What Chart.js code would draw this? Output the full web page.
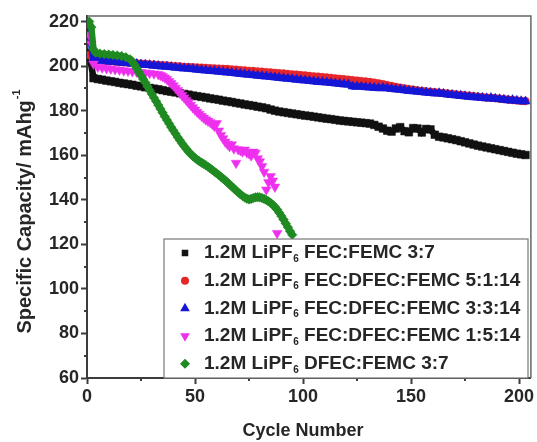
<!DOCTYPE html>
<html>
<head>
<meta charset="utf-8">
<script src="https://cdn.jsdelivr.net/npm/chart.js@4"></script>
<style>
  html, body { margin: 0; padding: 0; background: #fff; }
</style>
</head>
<body>
<canvas id="chart" width="537" height="442"></canvas>
<script>
// cycle numbers shared by the three long series
const cycles = [1,3,5,7,9,11,13,15,17,19,21,23,25,27,29,31,33,35,37,39,41,43,45,47,49,51,53,55,57,59,
  61,63,65,67,69,71,73,75,77,79,81,83,85,87,89,91,93,95,97,99,101,103,105,107,109,111,113,115,117,119,
  121,123,125,127,129,131,133,135,137,139,141,143,145,147,149,151,153,155,157,159,161,163,165,167,169,
  171,173,175,177,179,181,183,185,187,189,191,193,195,197,199,201,203];

// FEC:FEMC 3:7
const capFEC = [206.0,194.6,194.2,193.9,193.5,193.2,192.9,192.5,192.2,191.9,
  191.6,191.2,190.9,190.5,190.2,189.9,189.6,189.2,188.8,188.5,
  188.2,187.8,187.5,187.2,186.8,186.5,186.2,185.9,185.5,185.2,
  184.9,184.5,184.2,183.9,183.5,183.2,182.8,182.5,182.2,181.8,
  181.5,181.1,180.5,180.0,179.6,179.3,179.0,178.7,178.4,178.1,
  177.8,177.6,177.3,177.0,176.7,176.4,176.2,175.9,175.6,175.4,
  175.2,175.0,174.8,174.6,174.4,174.2,173.6,172.8,172.0,171.0,
  170.6,172.0,172.6,170.8,170.3,172.2,172.0,170.2,171.8,171.6,
  169.2,168.3,168.0,167.6,167.2,166.8,166.3,165.8,165.3,164.8,
  164.3,163.9,163.5,163.1,162.7,162.3,161.9,161.5,161.1,160.7,
  160.4,160.1];

// FEC:DFEC:FEMC 5:1:14
const cap514 = [205.0,202.8,202.6,202.5,202.3,202.2,202.0,201.9,201.7,201.6,
  201.4,201.3,201.1,201.0,200.8,200.7,200.5,200.4,200.3,200.1,
  200.0,199.9,199.7,199.6,199.5,199.4,199.3,199.2,199.1,199.0,
  198.9,198.8,198.7,198.5,198.4,198.2,198.1,197.9,197.8,197.6,
  197.5,197.3,197.2,197.0,196.8,196.7,196.5,196.3,196.2,196.0,
  195.8,195.6,195.4,195.3,195.1,194.9,194.7,194.5,194.3,194.1,
  193.9,193.7,193.5,193.3,193.1,192.9,192.6,192.3,191.9,191.5,
  191.1,190.7,190.3,190.0,189.7,189.4,189.1,188.9,188.7,188.5,
  188.3,188.1,187.9,187.7,187.5,187.3,187.1,186.9,186.7,186.5,
  186.3,186.1,185.9,185.8,185.6,185.4,185.2,185.0,184.8,184.6,
  184.4,184.3];

// FEC:DFEC:FEMC 3:3:14
const cap3314 = [216.0,202.8,202.6,202.4,202.2,202.1,201.9,201.7,201.5,201.4,
  201.2,201.0,200.8,200.7,200.5,200.3,200.1,199.9,199.8,199.6,
  199.4,199.2,199.0,198.9,198.7,198.5,198.3,198.1,197.9,197.8,
  197.6,197.4,197.2,197.0,196.8,196.6,196.4,196.2,196.0,195.8,
  195.6,195.4,195.2,195.0,194.8,194.6,194.4,194.2,194.0,193.8,
  193.6,193.4,193.2,193.0,192.9,192.7,192.5,192.3,192.1,191.9,
  191.8,190.9,190.9,190.8,190.6,190.5,190.3,190.2,190.3,190.1,
  189.8,189.6,189.5,189.2,188.9,188.8,188.6,188.4,188.2,188.0,
  187.8,187.9,187.6,187.3,187.1,186.9,186.7,186.5,186.3,186.1,
  186.0,185.8,185.6,185.7,185.4,185.2,185.0,184.7,184.8,184.5,
  184.3,184.2];

// FEC:DFEC:FEMC 1:5:14
const cycles1514 = [1,2,3,5,7,9,11,13,15,17,19,21,23,25,27,29,31,33,
  34,35,36,37,38,39,40,41,42,43,44,45,46,47,48,49,50,51,52,53,54,55,56,57,58,59,60,
  61,62,63,64,65,66,67,68,69,70,71,72,73,74,75,76,77,78,79,80,81,82,83,84,85,86,87,88];
const cap1514 = [214,210,201,199.6,199.3,199.0,198.8,198.5,198.3,198.0,197.8,197.6,197.4,197.2,197.0,196.8,196.6,196.3,
  195.9,195.4,194.8,194.1,193.2,192.3,191.3,190.2,189.1,188.0,186.9,185.8,184.7,183.6,182.5,181.4,180.4,179.4,178.5,
  177.6,176.8,176.0,175.4,174.8,174.0,173.0,174.3,171.0,169.0,167.5,166.0,165.0,164.0,164.8,163.0,156.5,162.6,162.2,
  161.6,162.4,161.2,160.8,159.8,161.5,161.0,158.5,157.2,155.0,152.5,144.5,147.8,150.5,148.5,145.8,125.0];

// DFEC:FEMC 3:7
const cyclesDFEC = [1,2,3,4,6,8,10,12,14,16,18,20,
  21,22,23,24,25,26,27,28,29,30,31,32,33,34,35,36,37,38,39,40,41,42,43,44,45,46,47,48,49,50,
  51,52,53,54,55,56,57,58,59,60,61,62,63,64,65,66,67,68,69,70,71,72,73,74,75,76,77,78,79,80,
  81,82,83,84,85,86,87,88,89,90,91,92,93,94,95];
const capDFEC = [220,217.5,207.5,206.0,205.6,205.4,205.2,205.0,204.8,204.5,204.0,203.0,
  202.0,200.6,199.0,197.4,195.8,194.2,192.6,190.9,189.2,187.5,
  185.8,184.2,182.5,180.8,179.1,177.4,175.8,174.2,172.6,171.1,
  169.6,168.1,166.7,165.3,164.0,162.8,161.6,160.5,159.6,158.8,
  158.0,157.3,156.7,156.1,155.5,154.8,154.1,153.4,152.6,151.9,
  151.1,150.3,149.5,148.7,147.8,146.9,146.0,145.1,144.2,143.3,
  142.5,141.7,141.0,140.5,140.2,140.4,140.8,141.1,141.2,141.1,
  140.8,140.4,139.9,139.3,138.6,137.8,136.8,135.6,134.2,132.7,
  131.1,129.4,127.7,125.9,124.3];

const names = [
  '1.2M LiPF₆ FEC:FEMC 3:7',
  '1.2M LiPF₆ FEC:DFEC:FEMC 5:1:14',
  '1.2M LiPF₆ FEC:DFEC:FEMC 3:3:14',
  '1.2M LiPF₆ FEC:DFEC:FEMC 1:5:14',
  '1.2M LiPF₆ DFEC:FEMC 3:7'
];
const xTicks = [0, 50, 100, 150, 200];
const yTicks = [60, 80, 100, 120, 140, 160, 180, 200, 220];
const xMinor = [25, 75, 125, 175];
const yMinor = [70, 90, 110, 130, 150, 170, 190, 210];

const FONT = '"Liberation Sans", Arial, sans-serif';
const TEXT = '#262626';
const AXIS = '#3c3c3c';

function pts(xs, ys) { return xs.map((c, i) => ({ x: c, y: ys[i] })); }

const styles = [
  { color: '#111111', pointStyle: 'rect',     radius: 5.4, rotation: 0,   legendR: 3.8, line: 6.5 },
  { color: '#e6262b', pointStyle: 'circle',   radius: 3.9, rotation: 0,   legendR: 3.4, line: 6.5 },
  { color: '#1616d6', pointStyle: 'triangle', radius: 5.4, rotation: 0,   legendR: 4.4, line: 6.5 },
  { color: '#ee30ee', pointStyle: 'triangle', radius: 5.6, rotation: 180, legendR: 4.4, line: 0 },
  { color: '#208a22', pointStyle: 'rectRot',  radius: 4.8, rotation: 0,   legendR: 4.2, line: 6.5 }
];
const seriesData = [
  pts(cycles, capFEC), pts(cycles, cap514), pts(cycles, cap3314),
  pts(cycles1514, cap1514), pts(cyclesDFEC, capDFEC)
];

const datasets = seriesData.map((d, i) => ({
  label: names[i],
  data: d,
  order: 5 - i,
  showLine: styles[i].line > 0,
  borderWidth: styles[i].line,
  pointStyle: styles[i].pointStyle,
  pointRadius: styles[i].radius,
  pointRotation: styles[i].rotation,
  backgroundColor: styles[i].color,
  borderColor: styles[i].color,
  pointBorderWidth: 0.5
}));

// frame, minor ticks, axis titles and the boxed legend
const extras = {
  id: 'extras',
  afterDraw(chart) {
    const { ctx, chartArea: a, scales: { x, y } } = chart;
    ctx.save();

    ctx.strokeStyle = '#666';
    ctx.lineWidth = 1.5;
    ctx.beginPath();
    ctx.moveTo(a.left, a.top);
    ctx.lineTo(a.right, a.top);
    ctx.lineTo(a.right, a.bottom);
    ctx.stroke();

    ctx.strokeStyle = AXIS;
    ctx.lineWidth = 2;
    xMinor.forEach(v => {
      const px = Math.round(x.getPixelForValue(v));
      ctx.beginPath(); ctx.moveTo(px, a.bottom); ctx.lineTo(px, a.bottom + 3); ctx.stroke();
    });
    yMinor.forEach(v => {
      const py = Math.round(y.getPixelForValue(v));
      ctx.beginPath(); ctx.moveTo(a.left, py); ctx.lineTo(a.left - 3, py); ctx.stroke();
    });

    // legend
    const box = { l: 164, t: 239, r: 528, b: a.bottom };
    ctx.fillStyle = '#fff';
    ctx.fillRect(box.l, box.t, box.r - box.l, box.b - box.t);
    ctx.strokeStyle = '#777';
    ctx.lineWidth = 1.2;
    ctx.strokeRect(box.l, box.t, box.r - box.l, box.b - box.t);
    const fs = 19;
    names.forEach((name, i) => {
      const cy = 253 + i * 27.7;
      ctx.fillStyle = styles[i].color;
      ctx.strokeStyle = styles[i].color;
      Chart.helpers.drawPoint(ctx, {
        pointStyle: styles[i].pointStyle, radius: styles[i].legendR,
        rotation: styles[i].rotation, borderWidth: 0.5
      }, 185, cy);
      const parts = name.split('₆');
      ctx.fillStyle = TEXT;
      ctx.textBaseline = 'middle';
      ctx.textAlign = 'left';
      let tx = 204;
      ctx.font = 'bold ' + fs + 'px ' + FONT;
      ctx.fillText(parts[0], tx, cy);
      tx += ctx.measureText(parts[0]).width;
      ctx.font = 'bold ' + Math.round(fs * 0.55) + 'px ' + FONT;
      ctx.fillText('6', tx + 0.5, cy + 6);
      tx += ctx.measureText('6').width + 0.5;
      ctx.font = 'bold ' + fs + 'px ' + FONT;
      ctx.fillText(parts[1], tx, cy);
    });

    // axis titles
    ctx.fillStyle = TEXT;
    ctx.textBaseline = 'middle';
    ctx.textAlign = 'center';
    ctx.font = 'bold 18px ' + FONT;
    ctx.fillText('Cycle Number', 303, 431);

    ctx.translate(25, 212);
    ctx.rotate(-Math.PI / 2);
    ctx.font = 'bold 20px ' + FONT;
    const main = 'Specific Capacity/ mAhg';
    const w1 = ctx.measureText(main).width;
    ctx.font = 'bold 11px ' + FONT;
    const w2 = ctx.measureText('-1').width;
    const start = -(w1 + w2) / 2;
    ctx.textAlign = 'left';
    ctx.font = 'bold 20px ' + FONT;
    ctx.fillText(main, start, 0);
    ctx.font = 'bold 11px ' + FONT;
    ctx.fillText('-1', start + w1 + 1, -8);
    ctx.restore();
  }
};

new Chart(document.getElementById('chart'), {
  type: 'scatter',
  data: { datasets: datasets },
  options: {
    responsive: false,
    animation: false,
    events: [],
    layout: { padding: { top: 16, right: 5, left: 0, bottom: 0 } },
    plugins: { legend: { display: false }, tooltip: { enabled: false } },
    scales: {
      x: {
        type: 'linear',
        min: 0, max: 205.5,
        afterBuildTicks: s => { s.ticks = xTicks.map(v => ({ value: v })); },
        afterFit: s => { s.height = 64; s.paddingLeft = 0; s.paddingRight = 0; },
        ticks: { color: TEXT, font: { family: FONT, size: 18, weight: 'bold' }, padding: 2 },
        grid: { drawOnChartArea: false, tickLength: 6, tickColor: AXIS, tickWidth: 2 },
        border: { color: AXIS, width: 2 }
      },
      y: {
        type: 'linear',
        min: 60, max: 222.5,
        afterBuildTicks: s => { s.ticks = yTicks.map(v => ({ value: v })); },
        afterFit: s => { s.width = 87; s.paddingTop = 0; s.paddingBottom = 0; },
        ticks: { color: TEXT, font: { family: FONT, size: 18, weight: 'bold' }, padding: 2 },
        grid: { drawOnChartArea: false, tickLength: 6, tickColor: AXIS, tickWidth: 2 },
        border: { color: AXIS, width: 2 }
      }
    }
  },
  plugins: [extras]
});
</script>
</body>
</html>
